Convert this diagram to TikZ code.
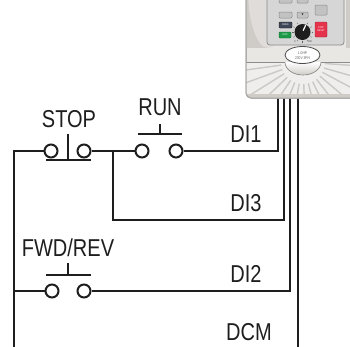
\documentclass[tikz,border=0pt]{standalone}
\usepackage{fontspec}
\setmainfont{Liberation Sans}[FakeStretch=0.82]
\newfontfamily\symfont{DejaVu Sans}
\usetikzlibrary{shapes.geometric}
\begin{document}
\definecolor{ink}{HTML}{1E1E1E}
\definecolor{body}{HTML}{E9E7E4}
\definecolor{bodyedge}{HTML}{A7A5A2}
\definecolor{bodyshade}{HTML}{CFCCC8}
\definecolor{panelfill}{HTML}{D6D6D6}
\definecolor{paneledge}{HTML}{8C8C8C}
\definecolor{keyfill}{HTML}{C2C2C2}
\definecolor{modekey}{HTML}{3D4556}
\definecolor{runkey}{HTML}{1D9A48}
\definecolor{stopkey}{HTML}{E5334C}
\definecolor{ray}{HTML}{CBC9C5}
\begin{tikzpicture}[x=1pt,y=-1pt,
  wire/.style={line width=2pt, draw=ink, line join=miter},
  contact/.style={circle, draw=ink, line width=2pt, minimum size=13pt, inner sep=0pt, fill=white},
  lbl/.style={text=ink, font=\fontsize{24.4}{28}\selectfont, inner sep=0pt},
  key/.style={rounded corners=1pt, fill=keyfill, draw=paneledge, line width=0.5pt},
  tiny/.style={inner sep=0pt, font=\fontsize{2.6}{3}\selectfont}
]
\useasboundingbox (0,0) rectangle (350,346);

% ---------- push-button contacts ----------
\node[contact] (s1) at (51,151) {};
\node[contact] (s2) at (84,151) {};
\node[contact] (r1) at (142,151) {};
\node[contact] (r2) at (176,151) {};
\node[contact] (f1) at (52,291) {};
\node[contact] (f2) at (84,291) {};

% ---------- wiring points ----------
\coordinate (railtop) at (14,151);
\coordinate (railmid) at (14,291);
\coordinate (railbot) at (14,348);
\coordinate (jn) at (113,151);
\coordinate (jdown) at (113,220);
\coordinate (di1t) at (278,96);
\coordinate (di3t) at (284,96);
\coordinate (di2t) at (290,96);
\coordinate (dcmt) at (298,96);
\coordinate (dcmb) at (298,348);

\draw[wire] (railbot) -- (railtop) -- (s1.west);
\draw[wire] (railmid) -- (f1.west);
\draw[wire] (s2.east) -- (r1.west);
\draw[wire] (r2.east) -| (di1t);
\draw[wire] (jn) -- (jdown) -| (di3t);
\draw[wire] (f2.east) -| (di2t);
\draw[wire] (dcmt) -- (dcmb);

% ---------- actuators ----------
\draw[wire] (46,160) -- (91,160);
\draw[wire] (68,134) -- (68,160);
\draw[wire] (138,134) -- (182,134);
\draw[wire] (160,124) -- (160,134);
\draw[wire] (46,275) -- (91,275);
\draw[wire] (68,263) -- (68,275);

% ---------- labels ----------
\node[lbl] (tstop) at (69,119) {STOP};
\node[lbl] (trun) at (160,107) {RUN};
\node[lbl] (tfwd) at (68,247.5) {FWD/REV};
\node[lbl] (tdi1) at (246,134) {DI1};
\node[lbl] (tdi3) at (246,203.5) {DI3};
\node[lbl] (tdi2) at (246,273.5) {DI2};
\node[lbl] (tdcm) at (249,332) {DCM};

% ---------- drive unit ----------
\begin{scope}
  \path[fill=body, draw=bodyedge, line width=1pt, rounded corners=5pt]
    (246,-10) rectangle (360,98);
  \clip[rounded corners=5pt] (246,-10) rectangle (360,98);
  % shaded upper corners of the housing
  \fill[bodyshade] (246,-10) rectangle (268,48);
  \fill[body!60!bodyshade] (268,-10) circle[x radius=20pt, y radius=58pt];
  \fill[bodyshade] (346,-10) rectangle (360,48);
  % lower vent area with radiating ribs
  \fill[body!70!white] (246,62) rectangle (360,98);
  \foreach \a in {4,16,...,176} {
    \draw[ray, line width=1.4pt] (303,62) ++(\a:22) -- ++(\a:50);
  }
  \fill[bodyshade] (246,94) rectangle (360,98);
  \draw[paneledge, line width=0.8pt] (246,62) -- (360,62);
  % dome under the rating plate
  \fill[top color=white, bottom color=bodyshade] (285,62) arc[start angle=180, end angle=0, x radius=18pt, y radius=-13pt] -- cycle;
  \draw[paneledge, line width=0.6pt] (285,62) arc[start angle=180, end angle=0, x radius=18pt, y radius=-13pt];
\end{scope}
\draw[bodyedge, line width=1pt, rounded corners=5pt] (246,-10) rectangle (360,98);

% rating plate
\node[draw=ink!80, line width=0.8pt, fill=white!95!body, ellipse, minimum width=35pt, minimum height=17pt, inner sep=0pt] (plate) at (302.5,55) {};
\node[tiny, font=\fontsize{4}{4.5}\selectfont, text=ink!70, align=center] (rating) at (302.5,55.5) {1.0HP\\230V 3PH};

% keypad
\draw[fill=panelfill, draw=paneledge, line width=0.8pt, rounded corners=3pt] (267,-10) rectangle (344,45);
\draw[key] (279,-4) rectangle (292,3);
\draw[key] (297,-4) rectangle (308,3);
\draw[key] (279,12) rectangle (292,18);
\draw[key] (297,12) rectangle (308,18);
\draw[key] (315,5) rectangle (327,15);
\node[tiny, text=ink] (down) at (302.5,15) {\symfont ▼};
\draw[rounded corners=1pt, fill=modekey, draw=ink] (279,22) rectangle (292,28);
\node[tiny, text=white] (mode) at (285.5,25) {MODE};
\draw[rounded corners=1pt, fill=runkey, draw=runkey!70!black] (279,32) rectangle (291,38);
\node[tiny, text=white] (runk) at (285,35) {RUN};
\draw[rounded corners=1pt, fill=stopkey, draw=stopkey!70!black] (315,22) rectangle (327,37);
\node[tiny, text=white, align=center] (stopk) at (321,29.5) {STOP\\RESET};
% speed potentiometer
\foreach \a in {-60,-30,...,240} {
  \draw[ink!70, line width=0.4pt] (302.5,32) ++(\a:9) -- ++(\a:1.6);
}
\node[circle, fill=ink, minimum size=16pt, inner sep=0pt] (knob) at (302.5,32) {};
\draw[white, line width=1.2pt] (knob.center) ++(-65:1.5) -- ++(-65:6);
\node[tiny, text=ink] (kmin) at (295,42) {0};
\node[tiny, text=ink] (kmax) at (310,42) {100};
\end{tikzpicture}
\end{document}
